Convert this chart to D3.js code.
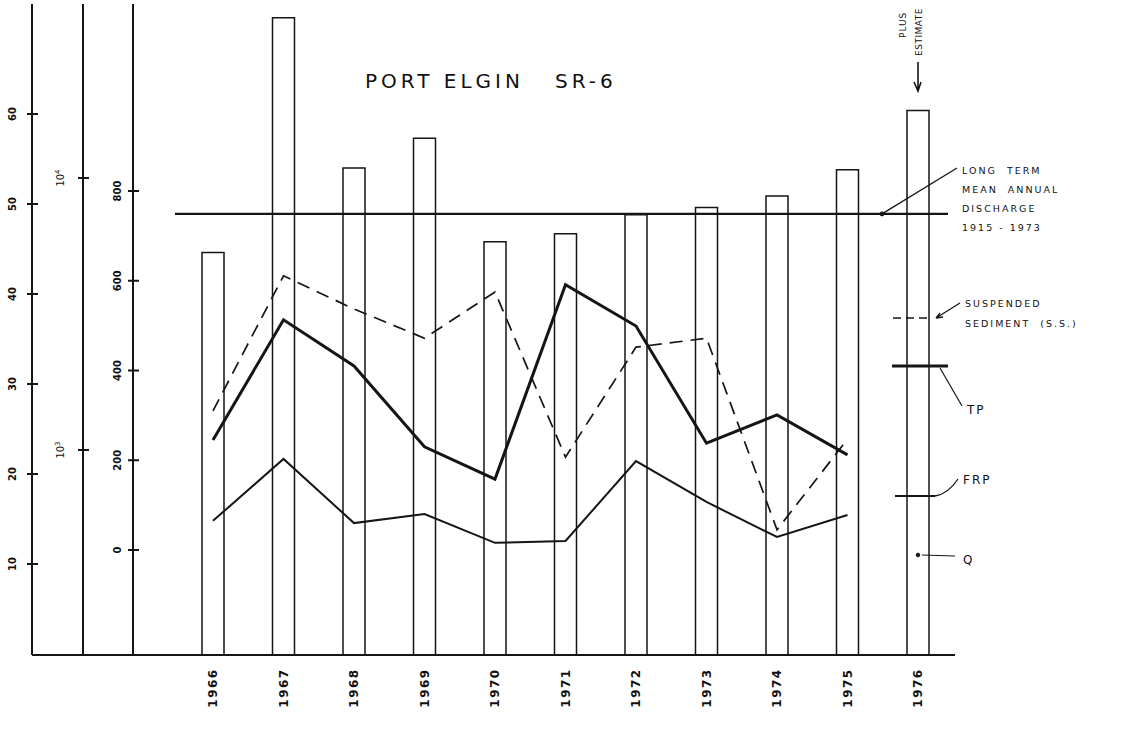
<!DOCTYPE html>
<html>
<head>
<meta charset="utf-8">
<script src="https://cdn.jsdelivr.net/npm/d3@7"></script>
<style>
    body { margin: 0; background: #fff; }
    svg { display: block; }
    text { font-family: "DejaVu Sans", sans-serif; fill: #111; }
</style>
</head>
<body>
<div id="chart_area"></div>
<script>
// years shown on the x axis (1976 has only the discharge bar)
const years = ["1966", "1967", "1968", "1969", "1970", "1971", "1972", "1973", "1974", "1975", "1976"];
const line_years = years.slice(0, 10);

// annual discharge (bars, left axis)
const discharge = [44.6, 70.7, 54.0, 57.3, 45.8, 46.7, 48.8, 49.6, 50.9, 53.8, 60.4];
const long_term_mean = 48.9;

// loads (lines, 0-800 axis)
const suspended_sediment = [310, 611, 537, 472, 575, 207, 452, 472, 45, 247];
const total_p = [245, 513, 410, 230, 158, 591, 499, 238, 301, 212];
const frp = [65, 203, 60, 80, 16, 20, 198, 107, 29, 78];

// tick labels
const q_ticks = [10, 20, 30, 40, 50, 60];
const log_ticks = [1000, 10000];
const log_labels = ["3", "4"];
const load_ticks = [0, 200, 400, 600, 800];

const width = 1126, height = 731;
const BASE_Y = 655;

let svg = d3.select("#chart_area")
    .append("svg")
    .attr("width", width)
    .attr("height", height);

let x = d3.scalePoint()
    .domain(years)
    .range([213, 918]);

let y_q = d3.scaleLinear().domain([0, 60]).range([654, 114]);
let y_log = d3.scaleLog().domain([1000, 10000]).range([450, 178]);
let y_load = d3.scaleLinear().domain([0, 800]).range([550, 191]);

const ink = "#151515";

// --- the three vertical scales on the left
function draw_axis(ax, scale, ticks, fmt, label_x) {
    svg.append("line")
        .attr("x1", ax).attr("x2", ax)
        .attr("y1", 4).attr("y2", BASE_Y)
        .attr("stroke", ink).attr("stroke-width", 2);
    let g = svg.append("g");
    ticks.forEach(function (t, i) {
        let yy = scale(t);
        g.append("line")
            .attr("x1", ax - 5).attr("x2", ax + 6)
            .attr("y1", yy).attr("y2", yy)
            .attr("stroke", ink).attr("stroke-width", 2);
        fmt(g, t, i, label_x, yy);
    });
}

function plain_label(g, t, i, lx, yy) {
    g.append("text")
        .attr("transform", "translate(" + lx + "," + yy + ") rotate(-90)")
        .attr("text-anchor", "middle")
        .attr("dy", "0.35em")
        .attr("font-size", 10)
        .attr("font-weight", "bold")
        .text(t);
}

function power_label(g, t, i, lx, yy) {
    let tx = g.append("text")
        .attr("transform", "translate(" + lx + "," + yy + ") rotate(-90)")
        .attr("text-anchor", "middle")
        .attr("dy", "0.35em")
        .attr("font-size", 10);
    tx.append("tspan").text("10");
    tx.append("tspan").attr("dy", "-0.5em").attr("font-size", 7).text(log_labels[i]);
}

draw_axis(32, y_q, q_ticks, plain_label, 12);
draw_axis(83, y_log, log_ticks, power_label, 60);
draw_axis(133, y_load, load_ticks, plain_label, 117);

// baseline
svg.append("line")
    .attr("x1", 32).attr("x2", 955)
    .attr("y1", BASE_Y).attr("y2", BASE_Y)
    .attr("stroke", ink).attr("stroke-width", 2);

// --- discharge bars (outlined)
svg.append("g").selectAll("path")
    .data(discharge)
    .enter().append("path")
    .attr("d", function (d, i) {
        let cx = x(years[i]);
        return "M" + (cx - 11) + "," + BASE_Y + "V" + y_q(d) + "H" + (cx + 11) + "V" + BASE_Y;
    })
    .attr("fill", "none")
    .attr("stroke", ink)
    .attr("stroke-width", 1.5);

// long term mean discharge
svg.append("line")
    .attr("x1", 175).attr("x2", 948)
    .attr("y1", y_q(long_term_mean)).attr("y2", y_q(long_term_mean))
    .attr("stroke", ink).attr("stroke-width", 2.2);

// --- load lines
let line = d3.line()
    .x(function (d, i) { return x(line_years[i]); })
    .y(function (d) { return y_load(d); });

svg.append("path")
    .datum(suspended_sediment)
    .attr("d", line)
    .attr("fill", "none")
    .attr("stroke", ink)
    .attr("stroke-width", 1.7)
    .attr("stroke-dasharray", "13,8");

svg.append("path")
    .datum(total_p)
    .attr("d", line)
    .attr("fill", "none")
    .attr("stroke", ink)
    .attr("stroke-width", 3);

svg.append("path")
    .datum(frp)
    .attr("d", line)
    .attr("fill", "none")
    .attr("stroke", ink)
    .attr("stroke-width", 2);

// --- year labels
svg.append("g").selectAll("text")
    .data(years)
    .enter().append("text")
    .attr("transform", function (d) { return "translate(" + x(d) + ",688) rotate(-90)"; })
    .attr("text-anchor", "middle")
    .attr("dy", "0.35em")
    .attr("font-size", 12)
    .attr("font-weight", "bold")
    .attr("letter-spacing", 1.5)
    .text(function (d) { return d; });

// --- title
svg.append("text")
    .attr("x", 365).attr("y", 88)
    .attr("font-size", 20)
    .attr("letter-spacing", 4)
    .style("white-space", "pre")
    .text("PORT ELGIN   SR-6");

// --- "plus estimate" note over 1976
let x76 = x("1976");
svg.append("text")
    .attr("transform", "translate(" + (x76 - 12) + ",38) rotate(-90)")
    .attr("font-size", 9).attr("letter-spacing", 1)
    .text("PLUS");
svg.append("text")
    .attr("transform", "translate(" + (x76 + 4) + ",56) rotate(-90)")
    .attr("font-size", 9).attr("letter-spacing", 0.5)
    .text("ESTIMATE");
svg.append("path")
    .attr("d", "M" + x76 + ",62V91M" + (x76 - 4) + ",82L" + x76 + ",91L" + (x76 + 3) + ",82")
    .attr("fill", "none").attr("stroke", ink).attr("stroke-width", 1.6);

// --- legend (drawn on the 1976 column)
let leg = svg.append("g").attr("stroke", ink).attr("fill", "none");
let y_mean = y_q(long_term_mean);
leg.append("circle").attr("cx", 882).attr("cy", y_mean).attr("r", 2).attr("fill", ink);
leg.append("line").attr("x1", 882).attr("y1", y_mean).attr("x2", 957).attr("y2", 168).attr("stroke-width", 1.3);

leg.append("line").attr("x1", 893).attr("x2", 932).attr("y1", 318).attr("y2", 318)
    .attr("stroke-width", 1.5).attr("stroke-dasharray", "8,5");
leg.append("path").attr("d", "M936,318L960,303M936,318l7,-1M936,318l4,-5").attr("stroke-width", 1.3);

leg.append("line").attr("x1", 892).attr("x2", 948).attr("y1", 366).attr("y2", 366).attr("stroke-width", 3);
leg.append("line").attr("x1", 940).attr("x2", 962).attr("y1", 368).attr("y2", 406).attr("stroke-width", 1.2);

leg.append("line").attr("x1", 895).attr("x2", 935).attr("y1", 496).attr("y2", 496).attr("stroke-width", 1.8);
leg.append("path").attr("d", "M935,496Q948,494 958,479").attr("stroke-width", 1.3);

leg.append("circle").attr("cx", 918).attr("cy", 555).attr("r", 1.8).attr("fill", ink);
leg.append("line").attr("x1", 922).attr("x2", 955).attr("y1", 555).attr("y2", 556).attr("stroke-width", 1.2);

let legend_text = [
    ["LONG  TERM", 962, 174],
    ["MEAN  ANNUAL", 962, 193],
    ["DISCHARGE", 962, 212],
    ["1915 - 1973", 962, 231],
    ["SUSPENDED", 965, 307],
    ["SEDIMENT  (S.S.)", 965, 327],
    ["TP", 967, 414],
    ["FRP", 963, 484],
    ["Q", 963, 564]
];
svg.append("g").selectAll("text")
    .data(legend_text)
    .enter().append("text")
    .attr("x", function (d) { return d[1]; })
    .attr("y", function (d) { return d[2]; })
    .attr("font-size", function (d) { return d[0].length < 4 ? 12 : 9.5; })
    .attr("letter-spacing", 2)
    .style("white-space", "pre")
    .text(function (d) { return d[0]; });
</script>
</body>
</html>
